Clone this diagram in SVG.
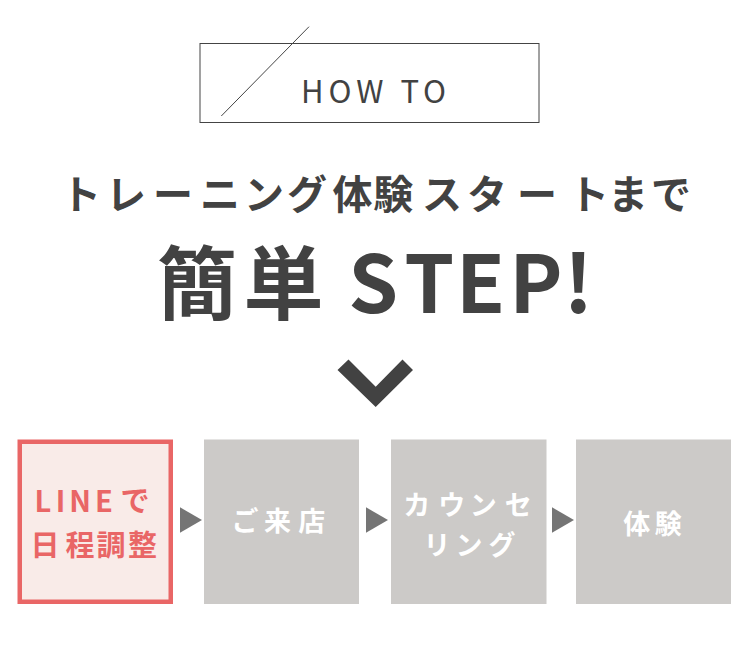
<svg xmlns="http://www.w3.org/2000/svg" xmlns:xlink="http://www.w3.org/1999/xlink" width="750" height="671" viewBox="0 0 750 671">
<style>
  .jp { font-family: "Noto Sans CJK JP", "Noto Sans", sans-serif; }
  .dark { fill: #424242; }
  .head { font-size: 40px; font-weight: 700; }
  .big { font-size: 80px; font-weight: 700; }
  .how { font-size: 31px; font-weight: 400; letter-spacing: 5px; }
  .boxgray { fill: #cccac8; }
  .boxlbl { fill: #ffffff; font-size: 27px; font-weight: 700; }
  .red { fill: #e96666; font-size: 29px; font-weight: 700; }
  .arrow { fill: #757575; }
</style>
<defs>
  <polygon id="tri" points="0,-12.7 22,0 0,12.7"/>
</defs>
<rect width="750" height="671" fill="#ffffff"/>

<g id="how-to">
  <rect x="200" y="43.5" width="339" height="79" fill="none" stroke="#444" stroke-width="1"/>
  <line x1="221.3" y1="116" x2="309" y2="26.7" stroke="#444" stroke-width="1"/>
  <text class="jp dark how" x="376" y="103.3" text-anchor="middle">HOW TO</text>
</g>

<g id="title">
  <text class="jp dark head" y="209" text-anchor="middle" x="81 126 173 220 264 307 352.5 393.3 442 487 537 589 628 671">トレーニング体験スタートまで</text>
  <text class="jp dark big" y="313" text-anchor="middle" x="197 283.5 373.3 429.2 480.5 536 578.3">簡単STEP!</text>
</g>

<g id="chevron">
  <polygon class="dark" points="337.5,370 348.5,359.5 375.7,386.7 402.5,359.5 413,370 375.7,407"/>
</g>

<g id="step1">
  <rect x="19.75" y="441.75" width="151" height="160" fill="#f9ebe8" stroke="#e96666" stroke-width="4.5"/>
  <text class="jp red" y="511.7" text-anchor="middle" x="43 60.5 80 104 135">LINEで</text>
  <text class="jp red" y="555.5" text-anchor="middle" x="45 80 111 142.5">日程調整</text>
</g>

<g id="step2">
  <rect class="boxgray" x="204" y="439.5" width="155" height="164.5"/>
  <text class="jp boxlbl" y="531" text-anchor="middle" x="245 277.5 311.7">ご来店</text>
</g>

<g id="step3">
  <rect class="boxgray" x="391" y="439.5" width="155.5" height="164.5"/>
  <text class="jp boxlbl" y="515" text-anchor="middle" x="416.7 451.7 483.3 518.3">カウンセ</text>
  <text class="jp boxlbl" y="555" text-anchor="middle" x="437 469 502">リング</text>
</g>

<g id="step4">
  <rect class="boxgray" x="576" y="439.5" width="155" height="164.5"/>
  <text class="jp boxlbl" y="534" text-anchor="middle" x="636.7 668.3">体験</text>
</g>

<g id="connectors">
  <use xlink:href="#tri" class="arrow" x="180" y="520"/>
  <use xlink:href="#tri" class="arrow" x="366" y="520"/>
  <use xlink:href="#tri" class="arrow" x="552" y="520"/>
</g>
</svg>
